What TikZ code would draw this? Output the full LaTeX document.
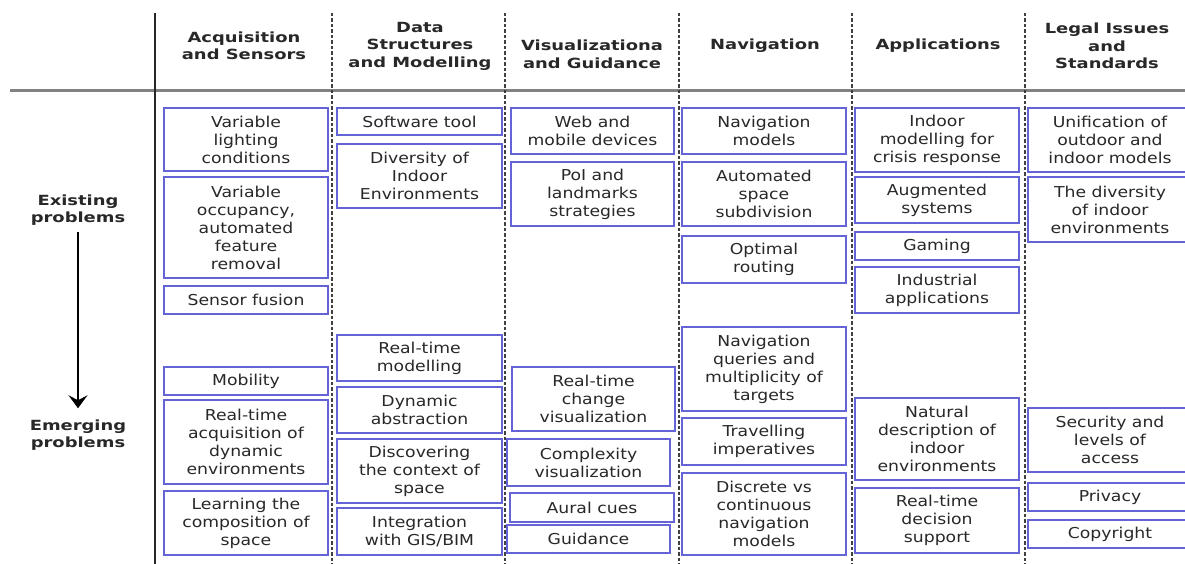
\documentclass[tikz,border=0pt]{standalone}
\usepackage{fontspec}
\setmainfont{DejaVu Sans}[FakeStretch=1.15]
\newfontfamily\hdfont{DejaVu Sans}[FakeStretch=1.28]
\usetikzlibrary{arrows.meta}
\definecolor{boxblue}{RGB}{100,100,215}
\definecolor{txt}{RGB}{40,40,40}
\definecolor{rule}{RGB}{130,130,130}
\tikzset{
  pbox/.style={draw=boxblue, line width=1.6pt, inner sep=0pt, align=center, text=txt,
    font=\fontsize{15}{18}\selectfont},
  head/.style={align=center, text=txt, inner sep=0pt,
    font=\hdfont\bfseries\fontsize{14}{17.5}\selectfont},
  colsep/.style={draw=black!75, line width=1.8pt, dash pattern=on 3.5pt off 2pt},
  mainrule/.style={draw=rule, line width=3pt},
  leftrule/.style={draw=black!85, line width=1.6pt},
  progarrow/.style={draw=black, line width=2.6pt, -{Stealth[length=13pt,width=19pt,inset=5pt]}},
}
\newcommand\bx[6]{\node[pbox, minimum width={#4-#2}, minimum height={#5-#3}] (#1) at ({(#2+#4)/2},{(#3+#5)/2}) {#6};}
\begin{document}
\begin{tikzpicture}[x=1pt,y=-1pt]
\useasboundingbox (0,0) rectangle (1185,564);
\clip (0,0) rectangle (1185,564);
\fill[white] (0,0) rectangle (1185,564);

% rules
\coordinate (hl) at (10,91);
\coordinate (hr) at (1185,91);
\draw[mainrule] (hl) -- (hr);
\coordinate (vt) at (155,13);
\coordinate (vb) at (155,564);
\draw[leftrule] (vt) -- (vb);
\foreach \xx in {332,505,679,852,1025}{
  \draw[colsep] (\xx,13) -- (\xx,564);
}

% headers
\node[head] (h1) at (244,46) {Acquisition\\and Sensors};
\node[head] (h2) at (420,46) {Data\\Structures\\and Modelling};
\node[head] (h3) at (592,54.5) {Visualizationa\\and Guidance};
\node[head] (h4) at (765,46) {Navigation};
\node[head] (h5) at (938,46) {Applications};
\node[head] (h6) at (1107,46) {Legal Issues\\and\\Standards};

% side labels and arrow
\node[head] (ex) at (78,210) {Existing\\problems};
\node[head] (em) at (78,435) {Emerging\\problems};
\draw[progarrow, shorten <=6pt, shorten >=11pt] (ex.south) -- (em.north);

% column 1
\bx{a1}{164}{108}{328}{171}{Variable\\lighting\\conditions}
\bx{a2}{164}{177}{328}{278}{Variable\\occupancy,\\automated\\feature\\removal}
\bx{a3}{164}{286}{328}{314}{Sensor fusion}
\bx{a4}{164}{367}{328}{395}{Mobility}
\bx{a5}{164}{400}{328}{484}{Real-time\\acquisition of\\dynamic\\environments}
\bx{a6}{164}{491}{328}{555}{Learning the\\composition of\\space}

% column 2
\bx{b1}{337}{108}{502}{135}{Software tool}
\bx{b2}{337}{144}{502}{208}{Diversity of\\Indoor\\Environments}
\bx{b3}{337}{335}{502}{381}{Real-time\\modelling}
\bx{b4}{337}{387}{502}{433}{Dynamic\\abstraction}
\bx{b5}{337}{439}{502}{503}{Discovering\\the context of\\space}
\bx{b6}{337}{508}{502}{555}{Integration\\with GIS/BIM}

% column 3
\bx{c1}{511}{108}{674}{154}{Web and\\mobile devices}
\bx{c2}{511}{162}{674}{226}{PoI and\\landmarks\\strategies}
\bx{c3}{512}{367}{675}{431}{Real-time\\change\\visualization}
\bx{c4}{507}{439}{670}{486}{Complexity\\visualization}
\bx{c5}{510}{493}{674}{522}{Aural cues}
\bx{c6}{507}{525}{670}{553}{Guidance}

% column 4
\bx{d1}{682}{108}{846}{154}{Navigation\\models}
\bx{d2}{682}{162}{846}{226}{Automated\\space\\subdivision}
\bx{d3}{682}{236}{846}{283}{Optimal\\routing}
\bx{d4}{682}{327}{846}{411}{Navigation\\queries and\\multiplicity of\\targets}
\bx{d5}{682}{418}{846}{465}{Travelling\\imperatives}
\bx{d6}{682}{473}{846}{555}{Discrete vs\\continuous\\navigation\\models}

% column 5
\bx{e1}{855}{108}{1019}{172}{Indoor\\modelling for\\crisis response}
\bx{e2}{855}{177}{1019}{223}{Augmented\\systems}
\bx{e3}{855}{232}{1019}{260}{Gaming}
\bx{e4}{855}{267}{1019}{313}{Industrial\\applications}
\bx{e5}{855}{398}{1019}{480}{Natural\\description of\\indoor\\environments}
\bx{e6}{855}{488}{1019}{553}{Real-time\\decision\\support}

% column 6
\bx{f1}{1028}{108}{1192}{172}{Unification of\\outdoor and\\indoor models}
\bx{f2}{1028}{177}{1192}{242}{The diversity\\of indoor\\environments}
\bx{f3}{1028}{408}{1192}{472}{Security and\\levels of\\access}
\bx{f4}{1028}{483}{1192}{511}{Privacy}
\bx{f5}{1028}{520}{1192}{548}{Copyright}
\end{tikzpicture}
\end{document}
